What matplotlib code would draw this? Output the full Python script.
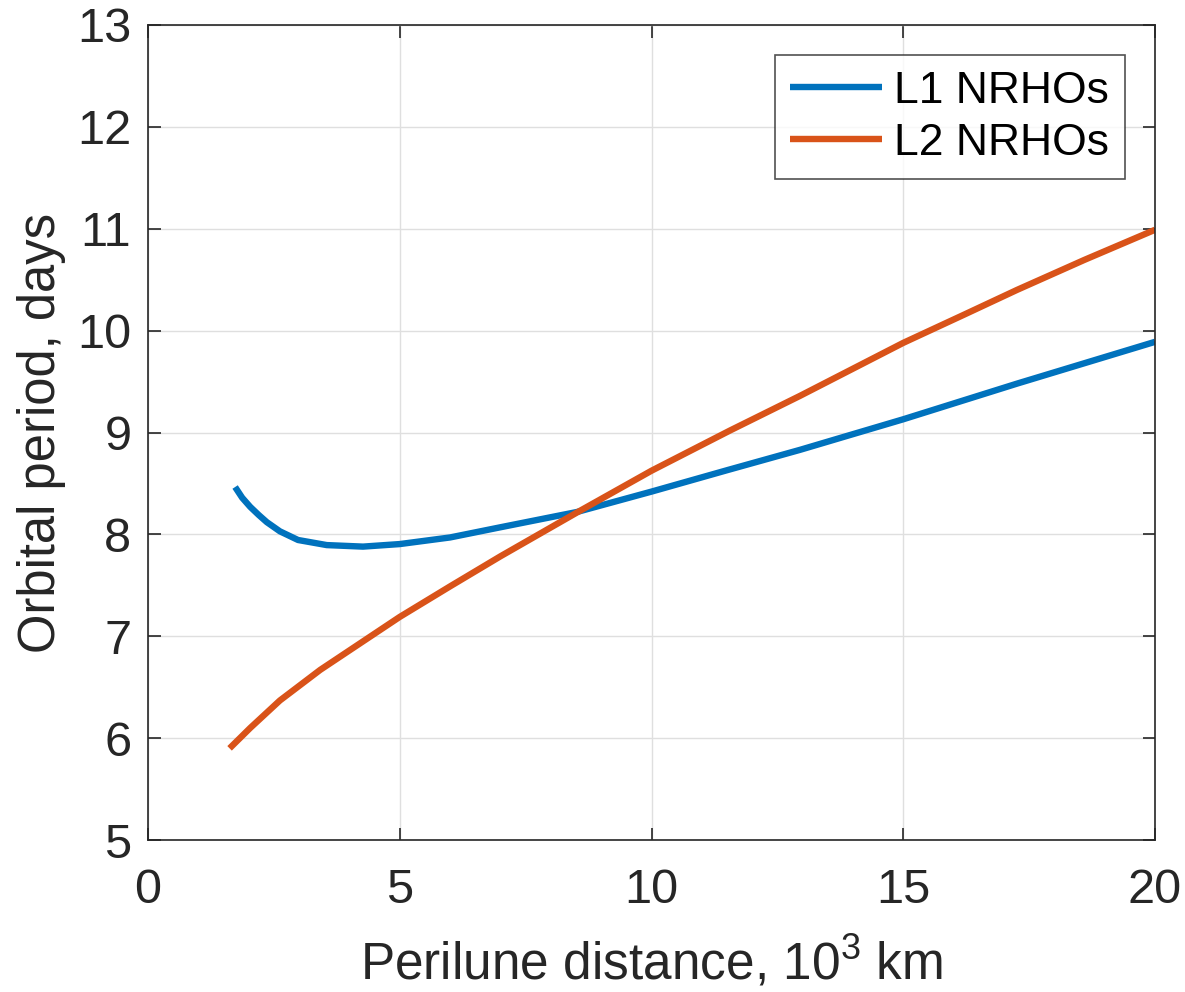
import matplotlib
matplotlib.use('Agg')
import matplotlib.pyplot as plt

# Donnees (distance perilune en 10^3 km, periode en jours)
l1_x = [1.73, 1.87, 2.03, 2.2, 2.36, 2.62, 2.98, 3.55, 4.27, 5.0, 6.0, 7.0,
        8.52, 10.0, 11.5, 12.95, 13.94, 15.0, 17.26, 20.0]
l1_y = [8.465, 8.36, 8.27, 8.19, 8.12, 8.03, 7.945, 7.895, 7.88, 7.905, 7.97, 8.07,
        8.22, 8.42, 8.63, 8.83, 8.975, 9.13, 9.48, 9.89]

l2_x = [1.62, 2.03, 2.62, 3.42, 4.21, 5.0, 6.0, 7.0, 8.52, 10.0, 11.56,
        12.95, 15.0, 16.2, 17.26, 18.6, 20.0]
l2_y = [5.90, 6.10, 6.37, 6.67, 6.93, 7.19, 7.49, 7.785, 8.215, 8.625, 9.02,
        9.36, 9.88, 10.155, 10.40, 10.695, 10.99]

labels = ['L1 NRHOs', 'L2 NRHOs']
x_ticks = [0, 5, 10, 15, 20]
y_ticks = [5, 6, 7, 8, 9, 10, 11, 12, 13]

plt.rcParams['font.family'] = ['Liberation Sans', 'DejaVu Sans']
plt.rcParams['mathtext.default'] = 'regular'

fig = plt.figure(figsize=(11.85, 9.92), dpi=100)
ax = fig.add_axes([0.1249, 0.1532, 0.8498, 0.8216])

ax.plot(l1_x, l1_y, color='#0072BD', lw=4.6, label=labels[0],
        solid_capstyle='butt', solid_joinstyle='round')
ax.plot(l2_x, l2_y, color='#D95319', lw=4.6, label=labels[1],
        solid_capstyle='butt', solid_joinstyle='round')

ax.set_xlim(0, 20)
ax.set_ylim(5, 13)
ax.set_xticks(x_ticks)
ax.set_yticks(y_ticks)
ax.grid(True, color='#dfdfdf', lw=1.0)
ax.set_axisbelow(True)

edge = '#262626'
for s in ax.spines.values():
    s.set_color(edge)
    s.set_linewidth(1.2)
ax.tick_params(direction='in', length=9, width=1.2, colors=edge,
               top=True, right=True, labelsize=35)
ax.tick_params(axis='x', pad=20)
ax.tick_params(axis='y', pad=12)
for lab in ax.get_xticklabels() + ax.get_yticklabels():
    lab.set_color(edge)

ax.set_xlabel('Perilune distance, 10$^{3}$ km', fontsize=37, color=edge, labelpad=16)
ax.set_ylabel('Orbital period, days', fontsize=36.5, color=edge, labelpad=8)

leg = ax.legend(loc='upper right', fontsize=32, frameon=True, fancybox=False,
                edgecolor=edge, handlelength=2.07, borderaxespad=0.68,
                labelspacing=0.25, handletextpad=0.27, borderpad=0.35)
leg.get_frame().set_linewidth(1.2)

fig.savefig('out.png', dpi=100)
